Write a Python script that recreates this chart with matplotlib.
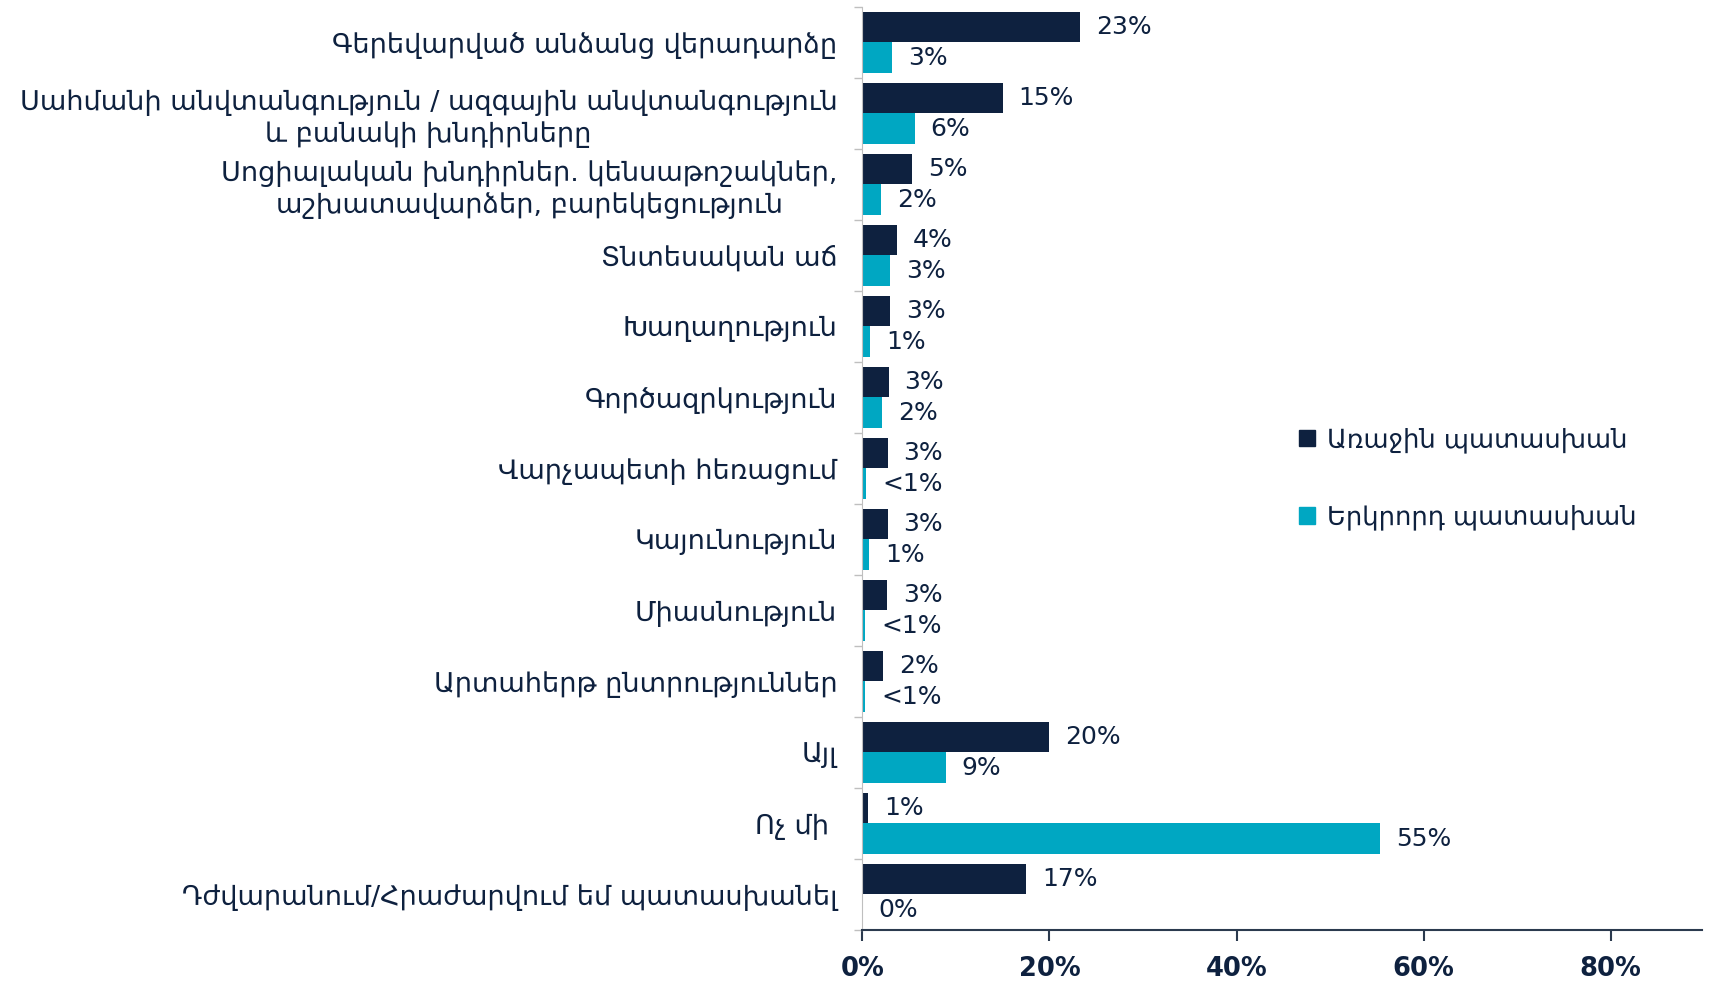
import numpy as np
import matplotlib.pyplot as plt
from matplotlib.patches import Patch
from matplotlib.ticker import FixedLocator

plt.rcParams['font.family'] = ['DejaVu Sans']

############### Data
categories = [
    'Գերեվարված անձանց վերադարձը',
    'Սահմանի անվտանգություն / ազգային անվտանգություն\nև բանակի խնդիրները',
    'Սոցիալական խնդիրներ. կենսաթոշակներ,\nաշխատավարձեր, բարեկեցություն',
    'Տնտեսական աճ',
    'Խաղաղություն',
    'Գործազրկություն',
    'Վարչապետի հեռացում',
    'Կայունություն',
    'Միասնություն',
    'Արտահերթ ընտրություններ',
    'Այլ',
    'Ոչ մի ',
    'Դժվարանում/Հրաժարվում եմ պատասխանել',
]
first = [23.3, 15.0, 5.3, 3.7, 3.0, 2.8, 2.7, 2.7, 2.6, 2.2, 20.0, 0.6, 17.5]
second = [3.2, 5.6, 2.0, 3.0, 0.8, 2.1, 0.4, 0.7, 0.3, 0.3, 8.9, 55.3, 0.0]
first_labels = ['23%', '15%', '5%', '4%', '3%', '3%', '3%', '3%', '3%', '2%', '20%', '1%', '17%']
second_labels = ['3%', '6%', '2%', '3%', '1%', '2%', '<1%', '1%', '<1%', '<1%', '9%', '55%', '0%']
series_names = ['Առաջին պատասխան', 'Երկրորդ պատասխան']
xticks = [0, 20, 40, 60, 80]

############### Style
navy = '#0E213F'
teal = '#00A7C2'
h = 0.43

fig = plt.figure(figsize=(17.11, 9.81), dpi=100)
ax = fig.add_axes([0.504, 0.052, 0.491, 0.941])

y = np.arange(len(categories))
b1 = ax.barh(y - h / 2, first, height=h, color=navy)
b2 = ax.barh(y + h / 2, second, height=h, color=teal)

############### Value labels
for bars, labs in ((b1, first_labels), (b2, second_labels)):
    for bar, lab in zip(bars, labs):
        ax.annotate(lab, (bar.get_width(), bar.get_y() + bar.get_height() / 2),
                    xytext=(11.5, 0), textcoords='offset points',
                    ha='left', va='center', fontsize=18, color=navy)

############### Axes
ax.set_ylim(len(categories) - 0.5, -0.5)
ax.set_xlim(0, 89.8)
ax.set_yticks(y)
ax.set_yticklabels(categories, fontsize=19.5, color=navy, linespacing=1.25)
for lab in ax.get_yticklabels():
    lab.set_multialignment('center')
ax.yaxis.set_minor_locator(FixedLocator(np.arange(-0.5, len(categories), 1)))
ax.tick_params(axis='y', which='major', length=0, pad=18)
ax.tick_params(axis='y', which='minor', length=6, color='#bfbfbf', width=1)

ax.set_xticks(xticks)
ax.set_xticklabels([f'{v}%' for v in xticks], fontsize=18.5, fontweight='bold', color=navy)
ax.tick_params(axis='x', length=8, width=1.5, color='#2b3a4e', pad=11)

for s in ('top', 'right'):
    ax.spines[s].set_visible(False)
ax.spines['left'].set_color('#bfbfbf')
ax.spines['bottom'].set_color('#2b3a4e')
ax.spines['bottom'].set_linewidth(1.5)

############### Legend
handles = [Patch(color=navy), Patch(color=teal)]
fig.legend(handles, series_names, loc='center', bbox_to_anchor=(0.858, 0.512),
           frameon=False, fontsize=18.5, labelcolor=navy, handlelength=0.6,
           handleheight=0.6, handletextpad=0.5, labelspacing=2.0)

fig.savefig('out.png', dpi=100)
